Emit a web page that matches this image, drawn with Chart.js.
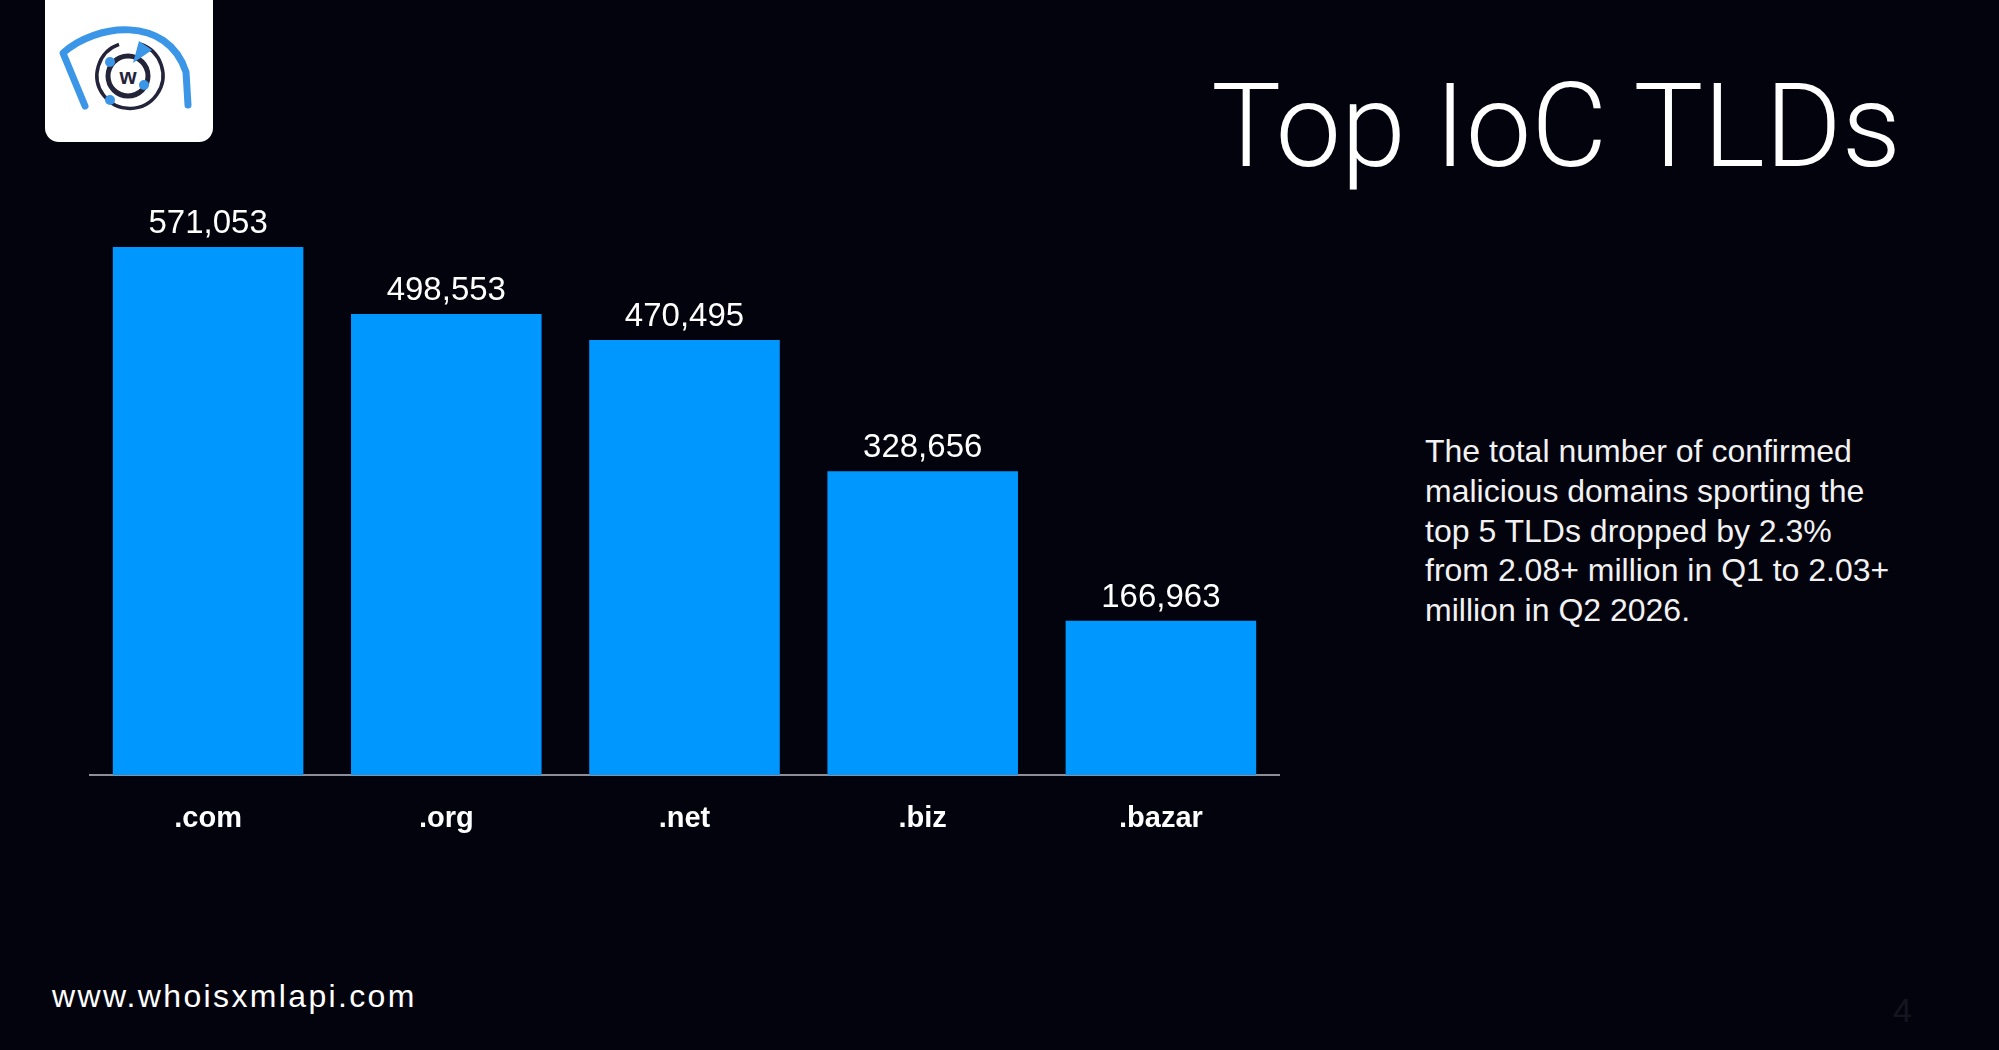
<!DOCTYPE html>
<html>
<head>
<meta charset="utf-8">
<title>Top IoC TLDs</title>
<script src="https://cdn.jsdelivr.net/npm/chart.js@4.4.1/dist/chart.umd.min.js"></script>
<style>
  html, body { margin: 0; padding: 0; }
  body {
    width: 1999px; height: 1050px; overflow: hidden; position: relative;
    background: #03030e; color: #fff;
    font-family: "Liberation Sans", Arial, sans-serif;
  }
  #logo {
    position: absolute; left: 45px; top: 0; width: 168px; height: 142px;
    background: #fff; border-radius: 0 0 14px 14px;
  }
  #title {
    position: absolute; right: 98px; top: 68px;
    font-family: Roboto, sans-serif; font-weight: 300; font-size: 117px; line-height: 1;
    white-space: nowrap;
  }
  #note {
    position: absolute; left: 1425px; top: 432px;
    font-size: 32px; line-height: 39.8px; color: #f2f2f2;
    white-space: nowrap;
  }
  #site {
    position: absolute; left: 52px; top: 980px;
    font-size: 32px; line-height: 1; letter-spacing: 2.35px;
  }
  #page {
    position: absolute; left: 1893px; top: 993px;
    font-size: 34px; line-height: 1; color: #15151f;
  }
  #chartBox {
    position: absolute; left: 89px; top: 150px; width: 1191px; height: 728px;
  }
</style>
</head>
<body>

<div id="logo">
  <svg width="168" height="142" viewBox="0 0 168 142">
    <path d="M40 106 L18 53 C 50 24, 122 14, 141 72 L 143 105" fill="none" stroke="#3b96e8" stroke-width="7" stroke-linecap="round" stroke-linejoin="round"/>
    <path d="M 95 44 A 33 33 0 1 1 74 44.3" fill="none" stroke="#23233a" stroke-width="3.5"/>
    <circle cx="83" cy="76" r="20" fill="none" stroke="#23233a" stroke-width="5"/>
    <text x="83" y="84" text-anchor="middle" font-family="Liberation Sans, Arial" font-weight="bold" font-size="22" fill="#23233a">w</text>
    <circle cx="65" cy="62" r="5" fill="#3b96e8"/>
    <circle cx="99" cy="85" r="5" fill="#3b96e8"/>
    <circle cx="65" cy="100" r="5" fill="#3b96e8"/>
    <path d="M 88 63 L 94 41 L 107 50 Z" fill="#3b96e8"/>
  </svg>
</div>

<div id="title">Top IoC TLDs</div>

<div id="note">The total number of confirmed<br>malicious domains sporting the<br>top 5 TLDs dropped by 2.3%<br>from 2.08+ million in Q1 to 2.03+<br>million in Q2 2026.</div>

<div id="site">www.whoisxmlapi.com</div>
<div id="page">4</div>

<div id="chartBox"><canvas id="tld-chart"></canvas></div>

<script>
// TLD names and IoC domain counts, as printed on the slide
const tlds = [".com", ".org", ".net", ".biz", ".bazar"];
const iocCounts = [571053, 498553, 470495, 328656, 166963];

const barColor = "#0097ff";
const axisColor = "#8e8e98";

// writes the count above each bar
const valueLabels = {
    id: "valueLabels",
    afterDatasetsDraw(chart) {
        const ctx = chart.ctx;
        const meta = chart.getDatasetMeta(0);
        ctx.save();
        ctx.fillStyle = "#ffffff";
        ctx.font = "33px 'Liberation Sans', Arial, sans-serif";
        ctx.textAlign = "center";
        ctx.textBaseline = "alphabetic";
        meta.data.forEach((bar, i) => {
            ctx.fillText(iocCounts[i].toLocaleString("en-US"), bar.x, bar.y - 14);
        });
        ctx.restore();
    }
};

function LoadBarChart() {
    new Chart(
        document.getElementById("tld-chart"),
        {
            type: "bar",
            data: {
                labels: tlds,
                datasets: [
                    {
                        label: "IoC domains",
                        data: iocCounts,
                        backgroundColor: barColor,
                        borderWidth: 0,
                        barPercentage: 0.8,
                        categoryPercentage: 1
                    }
                ]
            },
            options: {
                responsive: true,
                maintainAspectRatio: false,
                animation: false,
                layout: { padding: { top: 70.3, bottom: 14.2, left: 0, right: 0 } },
                plugins: {
                    legend: { display: false },
                    tooltip: { enabled: false }
                },
                scales: {
                    x: {
                        z: 1,
                        grid: { display: false, drawTicks: false },
                        border: { display: true, color: axisColor, width: 2 },
                        ticks: {
                            color: "#ffffff",
                            padding: 27,
                            font: { family: "'Liberation Sans', Arial, sans-serif", size: 29, weight: "bold" }
                        }
                    },
                    y: {
                        display: false,
                        min: 0,
                        max: 600000
                    }
                }
            },
            plugins: [valueLabels]
        }
    );
}

document.addEventListener("DOMContentLoaded", () => {
    LoadBarChart();
});
</script>
</body>
</html>
